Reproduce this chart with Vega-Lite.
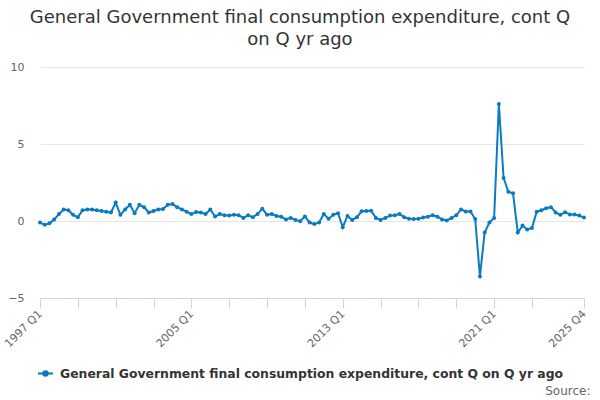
{
  "$schema": "https://vega.github.io/schema/vega-lite/v6.json",
  "autosize": "none",
  "width": 544,
  "height": 231,
  "padding": {"left": 40, "top": 67, "right": 16, "bottom": 102},
  "background": "white",
  "title": {
    "text": ["General Government final consumption expenditure, cont Q", "on Q yr ago"],
    "font": "DejaVu Sans",
    "fontSize": 18,
    "fontWeight": "normal",
    "color": "#333333",
    "anchor": "middle",
    "frame": "group",
    "dx": -12,
    "offset": 12,
    "lineHeight": 22
  },
  "config": {
    "view": {"stroke": null},
    "font": "DejaVu Sans"
  },
  "data": {
    "values": [
      {"quarter": "1997 Q1", "value": -0.1}, {"quarter": "1997 Q2", "value": -0.25}, {"quarter": "1997 Q3", "value": -0.15}, {"quarter": "1997 Q4", "value": 0.1},
      {"quarter": "1998 Q1", "value": 0.45}, {"quarter": "1998 Q2", "value": 0.75}, {"quarter": "1998 Q3", "value": 0.7}, {"quarter": "1998 Q4", "value": 0.4},
      {"quarter": "1999 Q1", "value": 0.25}, {"quarter": "1999 Q2", "value": 0.7}, {"quarter": "1999 Q3", "value": 0.75}, {"quarter": "1999 Q4", "value": 0.75},
      {"quarter": "2000 Q1", "value": 0.7}, {"quarter": "2000 Q2", "value": 0.65}, {"quarter": "2000 Q3", "value": 0.6}, {"quarter": "2000 Q4", "value": 0.55},
      {"quarter": "2001 Q1", "value": 1.2}, {"quarter": "2001 Q2", "value": 0.4}, {"quarter": "2001 Q3", "value": 0.75}, {"quarter": "2001 Q4", "value": 1.05},
      {"quarter": "2002 Q1", "value": 0.5}, {"quarter": "2002 Q2", "value": 1.05}, {"quarter": "2002 Q3", "value": 0.9}, {"quarter": "2002 Q4", "value": 0.55},
      {"quarter": "2003 Q1", "value": 0.65}, {"quarter": "2003 Q2", "value": 0.75}, {"quarter": "2003 Q3", "value": 0.78}, {"quarter": "2003 Q4", "value": 1.05},
      {"quarter": "2004 Q1", "value": 1.1}, {"quarter": "2004 Q2", "value": 0.9}, {"quarter": "2004 Q3", "value": 0.75}, {"quarter": "2004 Q4", "value": 0.6},
      {"quarter": "2005 Q1", "value": 0.45}, {"quarter": "2005 Q2", "value": 0.58}, {"quarter": "2005 Q3", "value": 0.55}, {"quarter": "2005 Q4", "value": 0.45},
      {"quarter": "2006 Q1", "value": 0.75}, {"quarter": "2006 Q2", "value": 0.3}, {"quarter": "2006 Q3", "value": 0.45}, {"quarter": "2006 Q4", "value": 0.37},
      {"quarter": "2007 Q1", "value": 0.35}, {"quarter": "2007 Q2", "value": 0.4}, {"quarter": "2007 Q3", "value": 0.37}, {"quarter": "2007 Q4", "value": 0.2},
      {"quarter": "2008 Q1", "value": 0.37}, {"quarter": "2008 Q2", "value": 0.25}, {"quarter": "2008 Q3", "value": 0.45}, {"quarter": "2008 Q4", "value": 0.8},
      {"quarter": "2009 Q1", "value": 0.4}, {"quarter": "2009 Q2", "value": 0.45}, {"quarter": "2009 Q3", "value": 0.33}, {"quarter": "2009 Q4", "value": 0.28},
      {"quarter": "2010 Q1", "value": 0.1}, {"quarter": "2010 Q2", "value": 0.2}, {"quarter": "2010 Q3", "value": 0.07}, {"quarter": "2010 Q4", "value": -0.02},
      {"quarter": "2011 Q1", "value": 0.3}, {"quarter": "2011 Q2", "value": -0.1}, {"quarter": "2011 Q3", "value": -0.2}, {"quarter": "2011 Q4", "value": -0.1},
      {"quarter": "2012 Q1", "value": 0.45}, {"quarter": "2012 Q2", "value": 0.15}, {"quarter": "2012 Q3", "value": 0.4}, {"quarter": "2012 Q4", "value": 0.5},
      {"quarter": "2013 Q1", "value": -0.4}, {"quarter": "2013 Q2", "value": 0.33}, {"quarter": "2013 Q3", "value": 0.07}, {"quarter": "2013 Q4", "value": 0.25},
      {"quarter": "2014 Q1", "value": 0.63}, {"quarter": "2014 Q2", "value": 0.65}, {"quarter": "2014 Q3", "value": 0.67}, {"quarter": "2014 Q4", "value": 0.2},
      {"quarter": "2015 Q1", "value": 0.07}, {"quarter": "2015 Q2", "value": 0.2}, {"quarter": "2015 Q3", "value": 0.35}, {"quarter": "2015 Q4", "value": 0.38},
      {"quarter": "2016 Q1", "value": 0.45}, {"quarter": "2016 Q2", "value": 0.25}, {"quarter": "2016 Q3", "value": 0.15}, {"quarter": "2016 Q4", "value": 0.13},
      {"quarter": "2017 Q1", "value": 0.15}, {"quarter": "2017 Q2", "value": 0.22}, {"quarter": "2017 Q3", "value": 0.28}, {"quarter": "2017 Q4", "value": 0.38},
      {"quarter": "2018 Q1", "value": 0.28}, {"quarter": "2018 Q2", "value": 0.1}, {"quarter": "2018 Q3", "value": 0.04}, {"quarter": "2018 Q4", "value": 0.2},
      {"quarter": "2019 Q1", "value": 0.37}, {"quarter": "2019 Q2", "value": 0.75}, {"quarter": "2019 Q3", "value": 0.62}, {"quarter": "2019 Q4", "value": 0.62},
      {"quarter": "2020 Q1", "value": 0.13}, {"quarter": "2020 Q2", "value": -3.6}, {"quarter": "2020 Q3", "value": -0.75}, {"quarter": "2020 Q4", "value": -0.1},
      {"quarter": "2021 Q1", "value": 0.2}, {"quarter": "2021 Q2", "value": 7.6}, {"quarter": "2021 Q3", "value": 2.8}, {"quarter": "2021 Q4", "value": 1.9},
      {"quarter": "2022 Q1", "value": 1.8}, {"quarter": "2022 Q2", "value": -0.75}, {"quarter": "2022 Q3", "value": -0.3}, {"quarter": "2022 Q4", "value": -0.55},
      {"quarter": "2023 Q1", "value": -0.45}, {"quarter": "2023 Q2", "value": 0.6}, {"quarter": "2023 Q3", "value": 0.7}, {"quarter": "2023 Q4", "value": 0.83},
      {"quarter": "2024 Q1", "value": 0.9}, {"quarter": "2024 Q2", "value": 0.55}, {"quarter": "2024 Q3", "value": 0.4}, {"quarter": "2024 Q4", "value": 0.57},
      {"quarter": "2025 Q1", "value": 0.42}, {"quarter": "2025 Q2", "value": 0.42}, {"quarter": "2025 Q3", "value": 0.35}, {"quarter": "2025 Q4", "value": 0.22}
    ]
  },
  "transform": [
    {"calculate": "'General Government final consumption expenditure, cont Q on Q yr ago'", "as": "series"}
  ],
  "mark": {
    "type": "line",
    "strokeWidth": 2,
    "point": {"filled": true, "size": 16}
  },
  "encoding": {
    "x": {
      "field": "quarter",
      "type": "ordinal",
      "scale": {"type": "point", "padding": 0},
      "axis": {
        "values": ["1997 Q1", "1999 Q1", "2001 Q1", "2003 Q1", "2005 Q1", "2007 Q1", "2009 Q1", "2011 Q1", "2013 Q1", "2015 Q1", "2017 Q1", "2019 Q1", "2021 Q1", "2023 Q1", "2025 Q4"],
        "labelExpr": "indexof(['1997 Q1', '2005 Q1', '2013 Q1', '2021 Q1', '2025 Q4'], datum.value) >= 0 ? datum.value : ''",
        "labelAngle": -45,
        "labelAlign": "right",
        "labelBaseline": "middle",
        "labelFontSize": 11,
        "labelColor": "#666666",
        "labelPadding": 4,
        "domainColor": "#ccd6eb",
        "tickColor": "#ccd6eb",
        "tickSize": 10,
        "grid": false,
        "title": "Source:",
        "titleFontSize": 12,
        "titleFontWeight": "normal",
        "titleColor": "#666666",
        "titleAlign": "right",
        "titleBaseline": "alphabetic",
        "titleX": 550,
        "titleY": 96
      }
    },
    "y": {
      "field": "value",
      "type": "quantitative",
      "scale": {"domain": [-5, 10], "nice": false},
      "axis": {
        "values": [-5, 0, 5, 10],
        "title": null,
        "domain": false,
        "ticks": false,
        "labelPadding": 16,
        "labelFontSize": 11,
        "labelColor": "#666666",
        "gridColor": "#e6e6e6"
      }
    },
    "color": {
      "field": "series",
      "type": "nominal",
      "scale": {"range": ["#0a7bc1"]},
      "legend": {
        "title": null,
        "orient": "none",
        "legendX": -3,
        "legendY": 298,
        "symbolType": "M-1,0L1,0M-0.3,0A0.3,0.3,0,1,1,0.3,0A0.3,0.3,0,1,1,-0.3,0",
        "symbolSize": 225,
        "symbolStrokeWidth": 2,
        "symbolFillColor": "#0a7bc1",
        "labelFontSize": 12.4,
        "labelFontWeight": "bold",
        "labelColor": "#333333",
        "labelLimit": 0,
        "labelOffset": 6
      }
    }
  }
}
